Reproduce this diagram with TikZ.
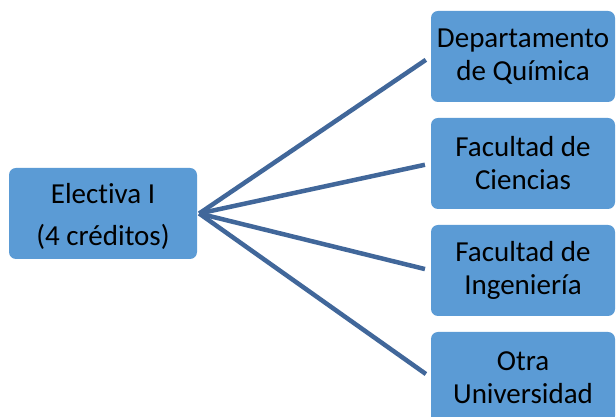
\documentclass[tikz,border=0pt]{standalone}
\usepackage{fontspec}
\setmainfont{Carlito}[Ligatures=NoCommon]
\definecolor{boxfill}{HTML}{5B9BD5}
\definecolor{linkcol}{HTML}{41679A}
\begin{document}
\begin{tikzpicture}[x=1pt,y=1pt,
  box/.style={draw=none,fill=boxfill,rounded corners=7pt,minimum height=91pt,align=center,
    font=\fontsize{29}{33}\selectfont,inner sep=0pt},
  link/.style={draw=linkcol,line width=4.5pt}]
\useasboundingbox (0,0) rectangle (616,417);
\fill[white] (0,0) rectangle (616,417);
\node[box,minimum width=188pt] (L) at (103,203.5) {};
\node[font=\fontsize{29}{33}\selectfont,align=center,inner sep=0pt] (Lt) at ([yshift=-3pt]L.center) {Electiva I\\[9pt](4 créditos)};
\node[box,minimum width=184pt] (R1) at (523,360.5) {Departamento\\de Química};
\node[box,minimum width=184pt] (R2) at (523,253.5) {Facultad de\\Ciencias};
\node[box,minimum width=184pt] (R3) at (523,146.5) {Facultad de\\Ingeniería};
\node[box,minimum width=184pt] (R4) at (523,39.5) {Otra\\Universidad};
\coordinate (S) at ([xshift=2pt]L.east);
\foreach \r in {R1,R2,R3,R4}
  \draw[link,shorten >=6pt] (S) -- (\r.west);
\end{tikzpicture}
\end{document}
